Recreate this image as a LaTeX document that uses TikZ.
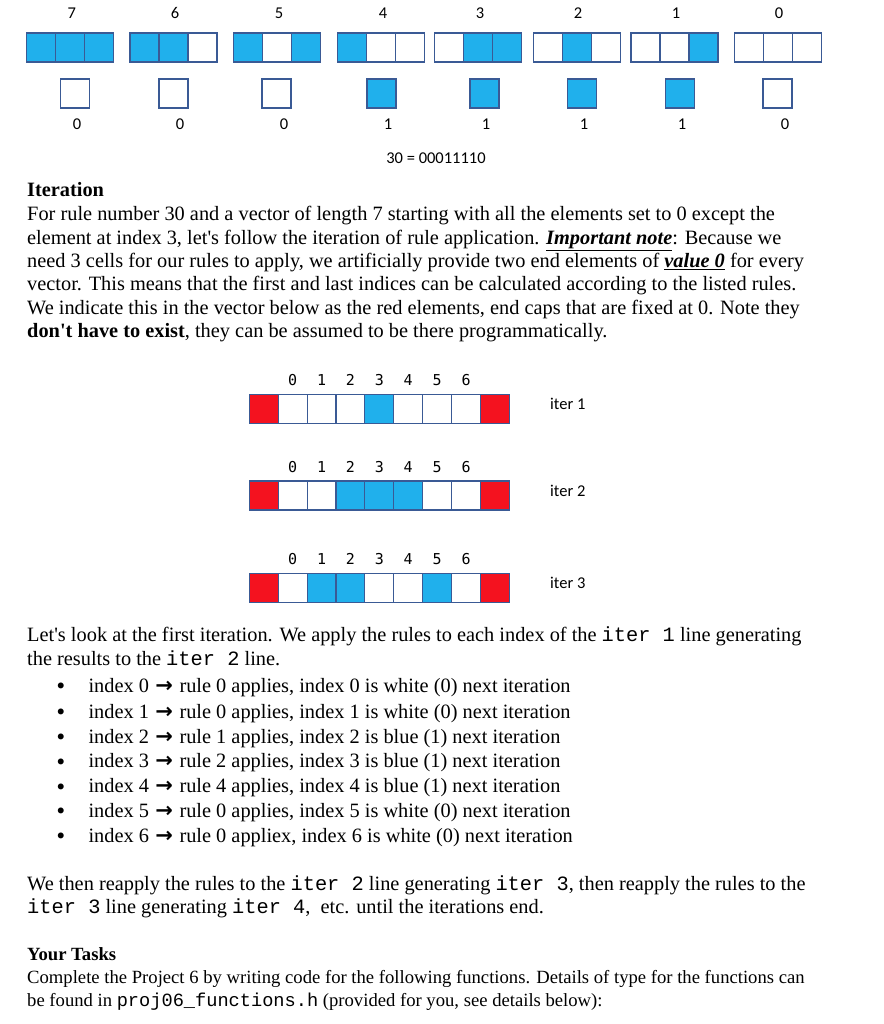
\documentclass[tikz,border=0pt]{standalone}
\usepackage{fontspec}
\newfontfamily\tnr{Liberation Serif}
\newfontfamily\calfont{Carlito}
\newfontfamily\cmono{Liberation Mono}
\newfontfamily\dmono{DejaVu Sans Mono}
\newfontfamily\djv{DejaVu Sans}
\definecolor{cblue}{RGB}{32,176,236}
\definecolor{cred}{RGB}{244,18,31}
\definecolor{cedge}{RGB}{58,90,149}
\colorlet{c0}{white}
\colorlet{c1}{cblue}
\colorlet{c2}{cred}
\newcommand{\rarr}{\makebox[20.35pt]{\djv\bfseries\fontsize{21}{21}\selectfont →}}
\begin{document}
\begin{tikzpicture}[x=1pt,y=-1pt,
  cell/.style={draw=cedge, line width=1.1pt, minimum width=29pt, minimum height=29pt, inner sep=0pt, outer sep=0pt, anchor=north west},
  txt/.style={anchor=base west, inner sep=0pt, font=\tnr\fontsize{20.35}{23.4}\selectfont},
  smalltxt/.style={anchor=base west, inner sep=0pt, font=\tnr\fontsize{18.65}{22.5}\selectfont},
  bullet/.style={anchor=base, inner sep=0pt, font=\djv\fontsize{20.35}{22}\selectfont},
  clab/.style={inner sep=0pt, font=\calfont\fontsize{16.5}{18}\selectfont},
  dlab/.style={inner sep=0pt, font=\dmono\fontsize{15}{16}\selectfont}]
\fill[white] (0,0) rectangle (883,1024);
\useasboundingbox (0,0) rectangle (883,1024);
% ---- rule table ----
\foreach \g/\x/\a/\b/\c/\sx/\r/\lx/\bx in {
 7/26.7/1/1/1/60.7/0/71.7/77,
 6/130/1/1/0/159/0/175/180,
 5/233.3/1/0/1/262/0/279/284,
 4/337.3/1/0/0/367/1/383/388,
 3/434.7/0/1/1/470/1/480/486,
 2/533.3/0/1/0/567.7/1/578/584,
 1/631/0/0/1/665.7/1/676/682,
 0/734.7/0/0/0/763/0/779/785}{
  \node[clab] (h\g) at (\lx,13) {\g};
  \node[cell,fill=c\a] (g\g a) at (\x,33) {};
  \node[cell,fill=c\b] (g\g b) at ({\x+29},33) {};
  \node[cell,fill=c\c] (g\g c) at ({\x+58},33) {};
  \node[cell,fill=c\r] (s\g) at (\sx,79) {};
  \node[clab] (r\g) at (\bx,124) {\r};
}
\node[clab] (rule30) at (436,158) {30 = 00011110};
% ---- paragraph 1 ----
\node[txt] (head1) at (27,196.7) {\bfseries Iteration};
\node[txt] (p1) at (27,220.7) {For rule number 30 and a vector of length 7 starting with all the elements set to 0 except the};
\node[txt] (p2) at (27,244.3) {element at index 3, let's follow the iteration of rule application. \underline{\textbf{\textit{Important note}}}: Because we};
\node[txt] (p3) at (27,267.7) {need 3 cells for our rules to apply, we artificially provide two end elements of \underline{\textbf{\textit{value 0}}} for every};
\node[txt] (p4) at (27,290.7) {vector. This means that the first and last indices can be calculated according to the listed rules.};
\node[txt] (p5) at (27,314.3) {We indicate this in the vector below as the red elements, end caps that are fixed at 0. Note they};
\node[txt] (p6) at (27,337.7) {\textbf{don't have to exist}, they can be assumed to be there programmatically.};
% ---- iteration vectors ----
\foreach \i/\y/\ly/\v in {1/394.3/380/{2,0,0,0,1,0,0,0,2},2/481/466.7/{2,0,0,1,1,1,0,0,2},3/573.3/559.3/{2,0,1,1,0,0,1,0,2}}{
  \foreach \c [count=\n from 0] in \v {
    \node[cell, minimum width=28.9pt, fill=c\c] (v\i-\n) at ({249.3+28.9*\n},\y) {};
  }
  \foreach \n in {0,...,6} {
    \node[dlab] (d\i-\n) at ({249.3+28.9*(\n+1.5)},\ly) {\n};
  }
  \node[clab, anchor=west] (it\i) at (550,{\y+9.5}) {iter \i};
}
% ---- paragraph 2 ----
\node[txt] (q1) at (27,641) {Let's look at the first iteration. We apply the rules to each index of the {\cmono iter 1} line generating};
\node[txt] (q2) at (27,665.7) {the results to the {\cmono iter 2} line.};
\foreach \k/\y/\rr/\ap/\col in {
 0/692.3/0/applies/white (0),
 1/718.3/0/applies/white (0),
 2/743.3/1/applies/blue (1),
 3/767.7/2/applies/blue (1),
 4/792.7/4/applies/blue (1),
 5/817.3/0/applies/white (0),
 6/842.3/0/appliex/white (0)}{
  \node[bullet] (bul\k) at (61,{\y+1.5}) {•};
  \node[txt] (item\k) at (88.3,\y) {index \k\ \rarr\ rule \rr\ \ap, index \k\ is \col\ next iteration};
}
\node[txt] (w1) at (27,890) {We then reapply the rules to the {\cmono iter 2} line generating {\cmono iter 3}, then reapply the rules to the};
\node[txt] (w2) at (27,913.3) {{\cmono iter 3} line generating {\cmono iter 4}, \ etc. until the iterations end.};
% ---- tasks ----
\node[smalltxt] (head2) at (27,960.7) {\bfseries Your Tasks};
\node[smalltxt] (t1) at (27,983.3) {Complete the Project 6 by writing code for the following functions. Details of type for the functions can};
\node[smalltxt] (t2) at (27,1006.7) {be found in {\cmono proj06\_functions.h} (provided for you, see details below):};
\end{tikzpicture}
\end{document}
